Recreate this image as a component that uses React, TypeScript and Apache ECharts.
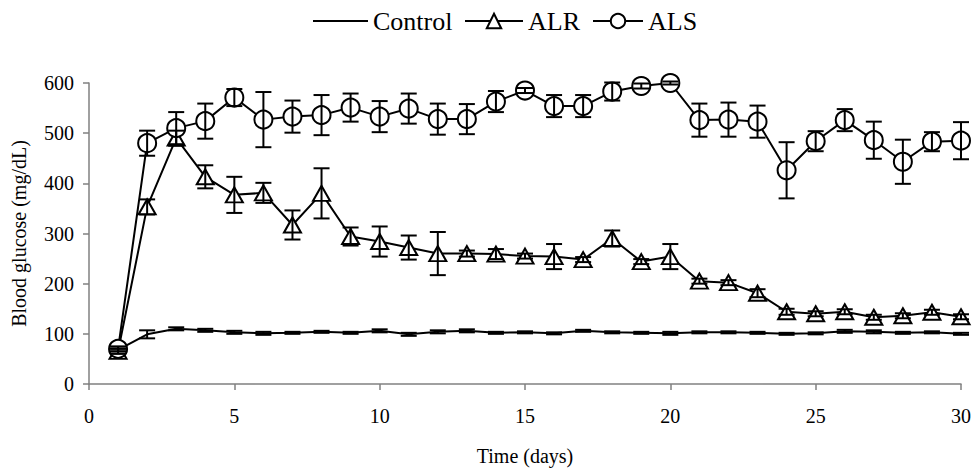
import React, { useEffect, useRef } from "react";
import * as echarts from "echarts";

const days = [1,2,3,4,5,6,7,8,9,10,11,12,13,14,15,16,17,18,19,20,21,22,23,24,25,26,27,28,29,30];
const controlMean = [68,99,110,107,103,101,102,104,102,106,99,104,106,102,103,101,106,103,102,101,103,103,102,100,101,105,104,102,103,100];
const controlErr = [3,8,3,3,3,3,2,2,2,3,3,3,3,2,2,2,2,2,2,3,2,2,2,2,2,3,3,2,2,2];
const alrMean = [65,353,490,413,377,381,317,380,294,284,272,260,260,259,255,254,248,290,244,254,205,202,181,144,140,144,133,136,143,134];
const alrErr = [5,15,15,23,36,20,29,50,18,30,24,43,6,10,5,25,5,16,5,25,5,5,8,6,5,5,5,5,5,5];
const alsMean = [70,480,510,524,571,527,533,536,551,533,549,528,528,563,585,554,554,583,594,600,526,527,523,426,484,526,486,443,483,485];
const alsErr = [5,25,32,35,17,55,32,40,28,31,30,31,30,21,5,22,22,18,5,3,33,34,32,56,20,22,37,44,19,37];

const xTicks = { min: 0, max: 30, interval: 5 };
const yTicks = { min: 0, max: 600, interval: 100 };

const FONT = "Liberation Serif";

function errData(mean: number[], err: number[]) {
  return days.map((d, i) => [d, mean[i] - err[i], mean[i] + err[i]]);
}

function errSeries(mean: number[], err: number[]) {
  return {
    type: "custom",
    z: 5,
    data: errData(mean, err),
    encode: { x: 0, y: [1, 2] },
    renderItem: (params: any, api: any) => {
      const x = api.value(0);
      const lo = api.coord([x, api.value(1)]);
      const hi = api.coord([x, api.value(2)]);
      const w = 8;
      const st = { stroke: "#000", lineWidth: 2 };
      return {
        type: "group",
        children: [
          { type: "line", shape: { x1: lo[0], y1: lo[1], x2: hi[0], y2: hi[1] }, style: st },
          { type: "line", shape: { x1: lo[0] - w, y1: lo[1], x2: lo[0] + w, y2: lo[1] }, style: st },
          { type: "line", shape: { x1: hi[0] - w, y1: hi[1], x2: hi[0] + w, y2: hi[1] }, style: st },
        ],
      };
    },
  };
}

const css = `body{margin:0} #chart svg text{font-family:"Liberation Serif","Times New Roman",serif !important;}`;

export default function App() {
  const ref = useRef<HTMLDivElement>(null);
  useEffect(() => {
    document.body.style.margin = "0";
    if (!ref.current) return;
    const chart = echarts.init(ref.current, null, { renderer: "svg" });
    const legendText = { fontFamily: FONT, fontSize: 26, color: "#000" };
    chart.setOption({
      animation: false,
      backgroundColor: "#fff",
      textStyle: { fontFamily: FONT },
      legend: [
        {
          data: ["Control"], left: 307, top: 3, itemWidth: 55, itemHeight: 18,
          textStyle: legendText,
          itemStyle: { color: "rgba(0,0,0,0)", borderColor: "rgba(0,0,0,0)", borderWidth: 0 },
        },
        { data: ["ALR"], left: 459, top: 3, itemWidth: 58, itemHeight: 18, textStyle: legendText },
        { data: ["ALS"], left: 587, top: 3, itemWidth: 50, itemHeight: 18, textStyle: legendText },
      ],
      grid: { left: 89, right: 12, top: 83, bottom: 87 },
      xAxis: {
        type: "value",
        min: xTicks.min, max: xTicks.max, interval: xTicks.interval,
        name: "Time (days)", nameLocation: "middle", nameGap: 62,
        nameTextStyle: { fontFamily: FONT, fontSize: 20, color: "#000" },
        axisLine: { lineStyle: { color: "#808080", width: 1.5 } },
        axisTick: { show: true, inside: false, length: 6, lineStyle: { color: "#808080", width: 1.5 } },
        axisLabel: { fontFamily: FONT, fontSize: 20, color: "#000", margin: 22 },
        splitLine: { show: false },
      },
      yAxis: {
        type: "value",
        min: yTicks.min, max: yTicks.max, interval: yTicks.interval,
        name: "Blood glucose (mg/dL)", nameLocation: "middle", nameGap: 60,
        nameTextStyle: { fontFamily: FONT, fontSize: 20, color: "#000" },
        axisLine: { show: true, lineStyle: { color: "#808080", width: 1.5 } },
        axisTick: { show: true, inside: false, length: 6, lineStyle: { color: "#808080", width: 1.5 } },
        axisLabel: { fontFamily: FONT, fontSize: 20, color: "#000", margin: 15 },
        splitLine: { show: false },
      },
      series: [
        {
          name: "Control", type: "line", symbol: "none",
          data: days.map((d, i) => [d, controlMean[i]]),
          lineStyle: { color: "#000", width: 2 },
          itemStyle: { color: "#000" },
          z: 2,
        },
        {
          name: "ALR", type: "line", symbol: "triangle", symbolSize: [17, 15],
          data: days.map((d, i) => [d, alrMean[i]]),
          lineStyle: { color: "#000", width: 2 },
          itemStyle: { color: "#fff", borderColor: "#000", borderWidth: 2 },
          z: 3,
        },
        {
          name: "ALS", type: "line", symbol: "circle", symbolSize: 18,
          data: days.map((d, i) => [d, alsMean[i]]),
          lineStyle: { color: "#000", width: 2 },
          itemStyle: { color: "#fff", borderColor: "#000", borderWidth: 2 },
          z: 4,
        },
        errSeries(controlMean, controlErr),
        errSeries(alrMean, alrErr),
        errSeries(alsMean, alsErr),
      ],
    });
    return () => chart.dispose();
  }, []);
  return (
    <>
      <style>{css}</style>
      <div id="chart" ref={ref} style={{ width: 974, height: 471 }} />
    </>
  );
}
